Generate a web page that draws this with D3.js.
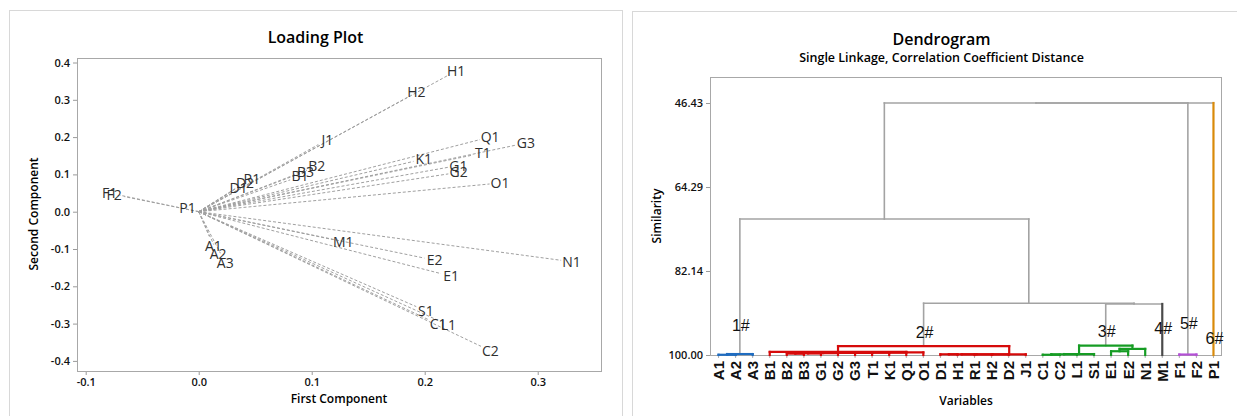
<!DOCTYPE html>
<html>
<head>
<meta charset="utf-8">
<script src="https://cdn.jsdelivr.net/npm/d3@7/dist/d3.min.js"></script>
<style>
  body { margin: 0; background: #fff; }
  svg { display: block; }
  .axis text { font-family: "Open Sans", sans-serif; font-weight: 600; font-size: 11px; fill: #111; }
  .axis line { stroke: #9a9a9a; }
  .axis path { display: none; }
</style>
</head>
<body>
<svg id="chart" width="1237" height="416"></svg>
<script>
// ---- loading plot data (PC1 / PC2 loadings per variable)
const varNames = ["A1","A2","A3","B1","B2","B3","C1","C2","D1","D2","E1","E2","F1","F2","G1",
                  "G2","G3","H1","H2","J1","K1","L1","M1","N1","O1","P1","Q1","R1","S1","T1"];
const pc1 = [0.0093, 0.0133, 0.0192, 0.0809, 0.0958, 0.0858, 0.2034, 0.2498, 0.0273, 0.0331,
             0.2144, 0.1997, -0.0698, -0.0658, 0.2206, 0.2209, 0.2804, 0.2196, 0.1844, 0.1058,
             0.1901, 0.2124, 0.1188, 0.3207, 0.2574, -0.0012, 0.2489, 0.0392, 0.1925, 0.2423];
const pc2 = [-0.0660, -0.0882, -0.1113, 0.0853, 0.1115, 0.0979, -0.2895, -0.3609, 0.0501, 0.0633,
             -0.1660, -0.1244, 0.0442, 0.0405, 0.1190, 0.1013, 0.1783, 0.3638, 0.3062, 0.1799,
             0.1349, -0.2922, -0.0748, -0.1303, 0.0743, 0.0013, 0.1933, 0.0740, -0.2544, 0.1517];
const pcTicksX = [-0.1, 0.0, 0.1, 0.2, 0.3];
const pcTicksY = [-0.4, -0.3, -0.2, -0.1, 0.0, 0.1, 0.2, 0.3, 0.4];

// ---- dendrogram data
const leaves = ["A1","A2","A3","B1","B2","B3","G1","G2","G3","T1","K1","Q1","O1","D1","H1",
                "R1","H2","D2","J1","C1","C2","L1","S1","E1","E2","N1","M1","F1","F2","P1"];
const leafGroup = [1,1,1,2,2,2,2,2,2,2,2,2,2,2,2,2,2,2,2,3,3,3,3,3,3,3,4,5,5,6];
// [left, right, similarity]; numbers point at earlier merges, strings at leaves
const merges = [
  ["A1","A2",99.95], [0,"A3",99.8],
  ["B2","B3",99.7], [2,"G1",99.65], [3,"G2",99.6], [4,"G3",99.55], [5,"T1",99.55],
  [6,"K1",99.5], [7,"Q1",99.5], [8,"O1",99.45], ["B1",9,99.35],
  ["D1","H1",99.85], [11,"R1",99.85], [12,"H2",99.85], [13,"D2",99.85], [14,"J1",99.85],
  [10,15,98.1],
  ["C1","C2",99.95], [17,"L1",99.85], [18,"S1",99.8],
  ["E1","E2",99.2], [20,"N1",98.7], [19,21,98.0],
  [22,"M1",89.15], [16,23,89.0], [1,24,71.1],
  ["F1","F2",99.9], [25,26,46.43], [27,"P1",46.43]
];
const simTicks = [46.43, 64.29, 82.14, 100.00];
const groupTags = ["1#","2#","3#","4#","5#","6#"];
const tagNode = [1, 16, 22, "M1", 26, "P1"];
const tagSim = [94.9, 96.4, 96.2, 95.5, 94.5, 97.7];
const groupColors = ["#a3a3a3", "#1f6cc0", "#d60a0a", "#169c24", "#4a4a4a", "#b450d6", "#d98a0a"];

const svg = d3.select("#chart");

// panel frames
svg.append("rect").attr("x", 9.5).attr("y", 10.5).attr("width", 613).attr("height", 420)
  .attr("style", "fill: none; stroke: #d8d8d8;");
svg.append("rect").attr("x", 632.5).attr("y", 11.5).attr("width", 620).attr("height", 420)
  .attr("style", "fill: none; stroke: #d8d8d8;");

// ================= Loading plot =================
const lx = d3.scaleLinear().domain([-0.1077, 0.3560]).range([77, 601]);
const ly = d3.scaleLinear().domain([0.4121, -0.4271]).range([58, 371]);
const fmt1 = (d) => d.toFixed(1);

svg.append("g").attr("class", "axis")
  .attr("transform", "translate(0,371)")
  .call(d3.axisBottom(lx).tickValues(pcTicksX).tickFormat(fmt1).tickSize(4).tickPadding(3));
svg.append("g").attr("class", "axis")
  .attr("transform", "translate(77,0)")
  .call(d3.axisLeft(ly).tickValues(pcTicksY).tickFormat(fmt1).tickSize(4).tickPadding(3));

svg.append("rect").attr("x", 77.5).attr("y", 58.5).attr("width", 524).attr("height", 313)
  .attr("style", "fill: none; stroke: #a8a8a8;");

const vecs = varNames.map((n, i) => ({ name: n, x: pc1[i], y: pc2[i] }));

svg.append("g").selectAll("line").data(vecs).join("line")
  .attr("x1", lx(0)).attr("y1", ly(0))
  .attr("x2", (d) => lx(d.x)).attr("y2", (d) => ly(d.y))
  .attr("style", "stroke: #a0a0a0; stroke-width: 1; stroke-dasharray: 3,2;");

const offs = 10.5;
svg.append("g").selectAll("text").data(vecs).join("text")
  .attr("x", (d) => {
    const dx = lx(d.x) - lx(0), dy = ly(d.y) - ly(0);
    return lx(d.x) + offs * dx / Math.hypot(dx, dy);
  })
  .attr("y", (d) => {
    const dx = lx(d.x) - lx(0), dy = ly(d.y) - ly(0);
    return ly(d.y) + offs * dy / Math.hypot(dx, dy);
  })
  .attr("dy", "0.36em")
  .attr("text-anchor", "middle")
  .attr("style", "font-family: 'Open Sans', sans-serif; font-size: 14px; fill: #2f2f2f;")
  .text((d) => d.name);

svg.append("text").attr("x", 315.5).attr("y", 43).attr("text-anchor", "middle")
  .attr("style", "font-family: 'Open Sans', sans-serif; font-size: 16px; font-weight: 600;")
  .text("Loading Plot");
svg.append("text").attr("x", 339).attr("y", 403).attr("text-anchor", "middle")
  .attr("style", "font-family: 'Open Sans', sans-serif; font-size: 12px; font-weight: 600;")
  .text("First Component");
svg.append("text").attr("transform", "translate(38,214) rotate(-90)").attr("text-anchor", "middle")
  .attr("style", "font-family: 'Open Sans', sans-serif; font-size: 12px; font-weight: 600;")
  .text("Second Component");

// ================= Dendrogram =================
const dx = d3.scaleBand().domain(leaves).range([710, 1222]);
const dy = d3.scaleLinear().domain([100, 40.9]).range([355, 77]);
const cx = (n) => dx(n) + dx.bandwidth() / 2;

svg.append("g").attr("class", "axis")
  .attr("transform", "translate(710,0)")
  .call(d3.axisLeft(dy).tickValues(simTicks).tickFormat((d) => d.toFixed(2)).tickSize(4).tickPadding(3));

svg.append("g").selectAll("line").data(leaves).join("line")
  .attr("x1", (d) => cx(d)).attr("x2", (d) => cx(d))
  .attr("y1", 355).attr("y2", 358)
  .attr("style", "stroke: #b0b0b0;");

svg.append("rect").attr("x", 710.5).attr("y", 77.5).attr("width", 511).attr("height", 278)
  .attr("style", "fill: none; stroke: #a8a8a8;");

const nodes = [];
const getNode = (ref) => {
  if (typeof ref === "number") return nodes[ref];
  const i = leaves.indexOf(ref);
  return { x: cx(ref), sim: 100, group: leafGroup[i], leaf: true };
};

const segs = [];
merges.forEach((m) => {
  const a = getNode(m[0]), b = getNode(m[1]);
  const node = { x: (a.x + b.x) / 2, sim: m[2], group: a.group === b.group ? a.group : 0, leaf: false };
  nodes.push(node);
  segs.push({ x1: a.x, x2: b.x, s1: m[2], s2: m[2], g: node.group });
  [a, b].forEach((c) => {
    const g = node.group ? node.group : (c.leaf ? c.group : 0);
    segs.push({ x1: c.x, x2: c.x, s1: c.sim, s2: m[2], g: g });
  });
});

segs.sort((p, q) => (p.g === 0 ? 0 : 1) - (q.g === 0 ? 0 : 1));

svg.append("g").selectAll("line").data(segs).join("line")
  .attr("x1", (d) => d.x1).attr("x2", (d) => d.x2)
  .attr("y1", (d) => dy(d.s1)).attr("y2", (d) => dy(d.s2))
  .attr("stroke", (d) => groupColors[d.g])
  .attr("stroke-width", (d) => d.g === 0 ? 1.6 : 2.2)
  .attr("stroke-linecap", "square");

svg.append("g").selectAll("text").data(groupTags).join("text")
  .attr("x", (d, i) => getNode(tagNode[i]).x + 1)
  .attr("y", (d, i) => dy(tagSim[i]))
  .attr("text-anchor", "middle")
  .attr("style", "font-family: 'Liberation Sans', Arial, sans-serif; font-size: 16px; fill: #111;")
  .text((d) => d);

svg.append("g").selectAll("text").data(leaves).join("text")
  .attr("transform", (d) => "translate(" + cx(d) + ",361) rotate(-90)")
  .attr("dy", "0.36em")
  .attr("text-anchor", "end")
  .attr("style", "font-family: 'Liberation Sans', Arial, sans-serif; font-size: 15px; font-weight: bold; fill: #111;")
  .text((d) => d);

svg.append("text").attr("x", 941.5).attr("y", 45).attr("text-anchor", "middle")
  .attr("style", "font-family: 'Open Sans', sans-serif; font-size: 16px; font-weight: 600;")
  .text("Dendrogram");
svg.append("text").attr("x", 941.5).attr("y", 62).attr("text-anchor", "middle")
  .attr("style", "font-family: 'Open Sans', sans-serif; font-size: 12.5px; font-weight: 600;")
  .text("Single Linkage, Correlation Coefficient Distance");
svg.append("text").attr("x", 966).attr("y", 405).attr("text-anchor", "middle")
  .attr("style", "font-family: 'Open Sans', sans-serif; font-size: 12px; font-weight: 600;")
  .text("Variables");
svg.append("text").attr("transform", "translate(661,216) rotate(-90)").attr("text-anchor", "middle")
  .attr("style", "font-family: 'Open Sans', sans-serif; font-size: 12px; font-weight: 600;")
  .text("Similarity");
</script>
</body>
</html>
